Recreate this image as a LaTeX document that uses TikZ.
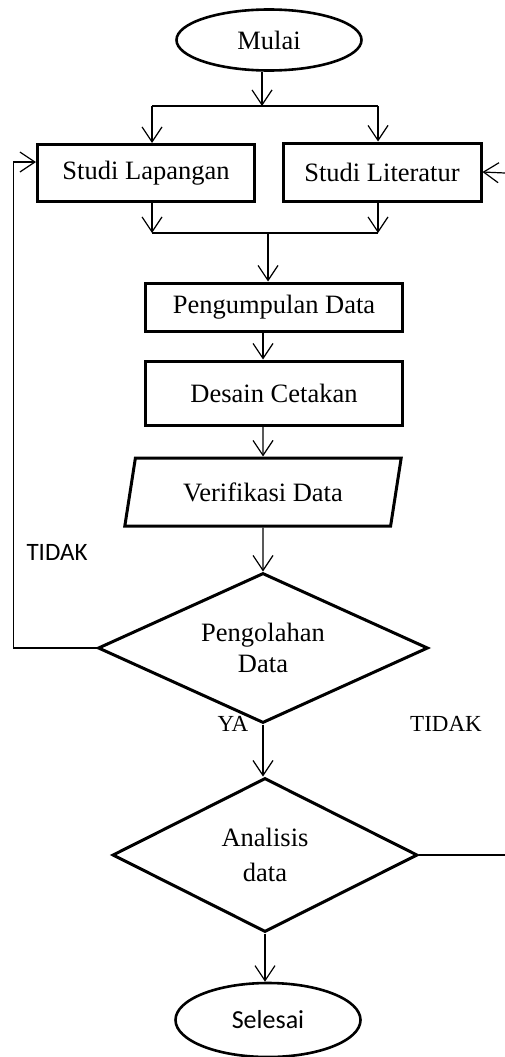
\documentclass[tikz,border=0pt]{standalone}
\usepackage{fontspec}
\setmainfont{Liberation Serif}
\newfontfamily\calibri{Carlito}
\usepackage{tikz}
\usetikzlibrary{positioning,shapes.geometric,arrows.meta}
\tikzstyle{startstop} = [ellipse, minimum width=185pt, minimum height=61pt, text centered, draw=black, line width=2.6pt]
\tikzstyle{process} = [rectangle, minimum width=257pt, minimum height=48pt, text centered, draw=black, line width=3pt]
\tikzstyle{io} = [trapezium, trapezium left angle=75, trapezium right angle=105, trapezium stretches=true, minimum width=277pt, minimum height=68pt, text centered, draw=black, line width=3pt]
\tikzstyle{decision} = [diamond, aspect=2.1, inner sep=0pt, align=center, draw=black, line width=3pt]
\tikzstyle{arrow} = [line width=1.2pt, -{Straight Barb[length=15pt,width=20pt]}]
\tikzstyle{line} = [line width=1.2pt]

\begin{document}
\begin{tikzpicture}[x=1pt, y=-1pt, node distance=86pt, font=\fontsize{26.5}{31}\selectfont]
          \useasboundingbox (0,0) rectangle (505,1057);
          \node (start) [startstop] at (269,40) {Mulai};
          \node (studi1) [process, below of=start, xshift=-123pt, yshift=-47pt, minimum width=217pt, minimum height=57pt] {Studi Lapangan};
          \node (studi2) [process, right of=studi1, node distance=236pt, yshift=1pt, minimum width=198pt, minimum height=58pt] {Studi Literatur};
          \node (process1) [process, below of=studi1, xshift=128pt, yshift=-48pt] {Pengumpulan Data};
          \node (process2) [process, below of=process1, minimum height=64pt] {Desain Cetakan};
          \node (io) [io, below of=process2, xshift=-11pt, yshift=-13pt] {Verifikasi Data};
          \node (decision1) [decision, below of=io, yshift=-70pt, minimum width=330pt, minimum height=150pt] {Pengolahan\\Data};
          \node (decision2) [decision, below of=decision1, xshift=2pt, yshift=-121pt, minimum width=305pt, minimum height=154pt] {Analisis\\[4pt]data};
          \node (stop) [startstop, below of=decision2, xshift=3pt, yshift=-79pt, minimum height=74pt, font=\calibri\fontsize{26}{30}\selectfont] {Selesai};
          % labels
          \node (tidak1) [font=\calibri\fontsize{25}{30}\selectfont] at (57,552) {TIDAK};
          \node (ya) [font=\fontsize{23}{28}\selectfont] at (233,724) {YA};
          \node (tidak2) [font=\fontsize{23}{28}\selectfont] at (446,724) {TIDAK};
          % split and join points
          \coordinate (forkM) at (262,106);
          \coordinate (forkL) at (152,106);
          \coordinate (forkR) at (378,106);
          \coordinate (joinL) at (152,233);
          \coordinate (joinR) at (378,233);
          \coordinate (joinM) at (268,233);
          \coordinate (litin) at (505,173);
          \coordinate (exitR) at (505,855);
          \draw [arrow] (start.south -| forkM) -- (forkM);
          \draw [line] (forkL) -- (forkR);
          \draw [arrow] (forkL) -- (forkL |- studi1.north);
          \draw [arrow] (forkR) -- (forkR |- studi2.north);
          \draw [arrow] (litin) -- (studi2.east);
          \draw [arrow] (joinL |- studi1.south) -- (joinL);
          \draw [arrow] (joinR |- studi2.south) -- (joinR);
          \draw [line] (joinL) -- (joinR);
          \draw [arrow] (joinM) -- (joinM |- process1.north);
          \draw [arrow] (process1.south -| io) -- (process2.north -| io);
          \draw [arrow] (process2.south -| io) -- (io.north);
          \draw [arrow] (io.south) -- (decision1.north);
          \draw [arrow] (decision1.west) -- ++(-83,0) |- ([yshift=11pt]studi1.west);
          \draw [arrow] (decision1.south) -- (decision1.south |- decision2.north);
          \draw [line] (decision2.east) -- (exitR);
          \draw [arrow] (decision2.south) -- (decision2.south |- stop.north);
        \end{tikzpicture}
\end{document}
